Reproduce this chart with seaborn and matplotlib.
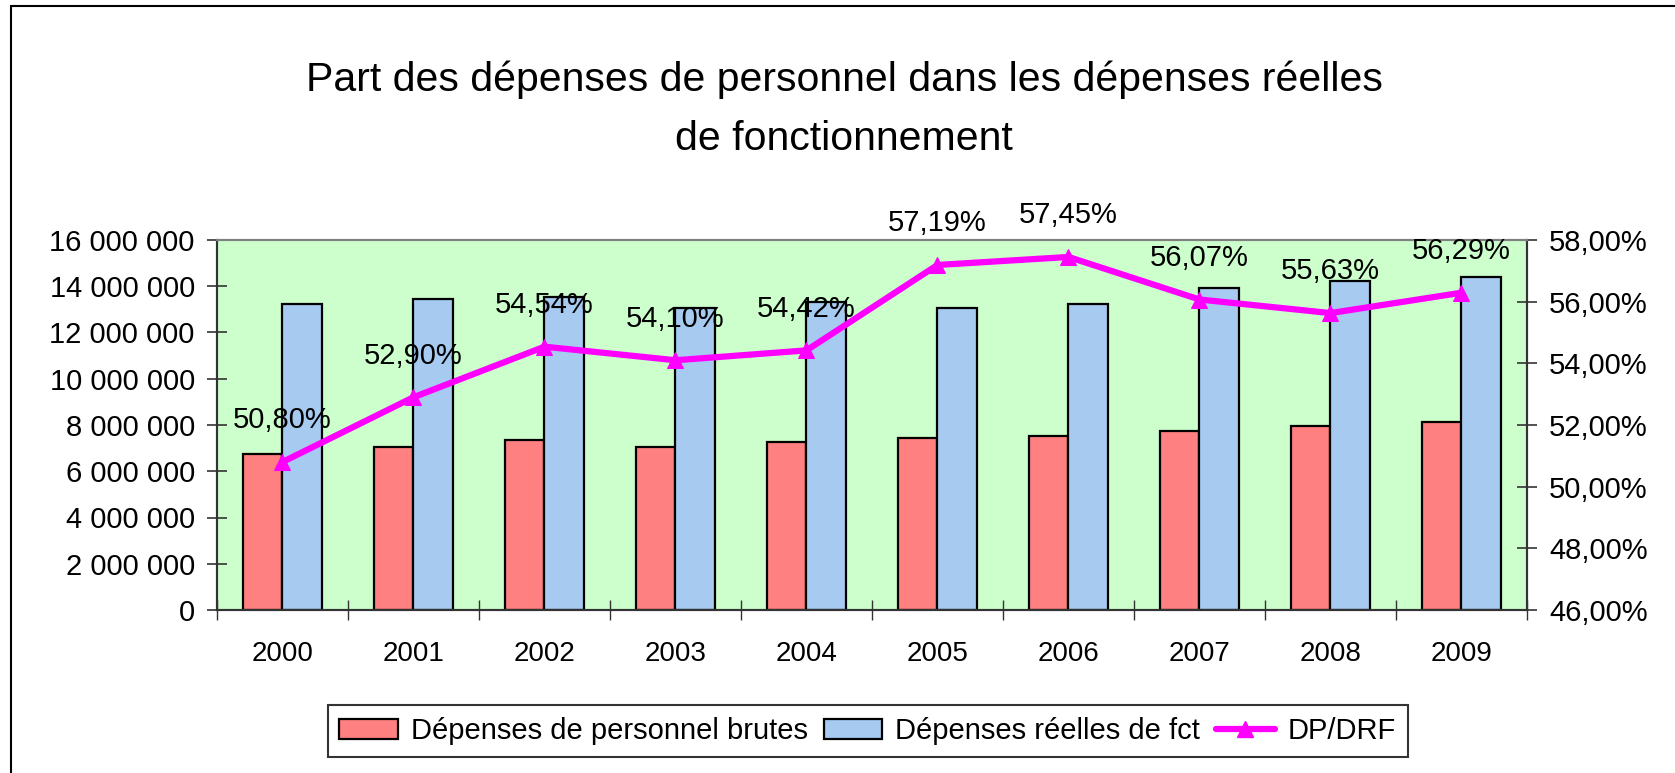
import numpy as np
import pandas as pd
import matplotlib
matplotlib.use("Agg")
import matplotlib.pyplot as plt
import seaborn as sns
from matplotlib.lines import Line2D
from matplotlib.patches import Patch
from matplotlib.ticker import FuncFormatter, MultipleLocator

years = ["2000", "2001", "2002", "2003", "2004", "2005", "2006", "2007", "2008", "2009"]
dep_personnel = [6730000, 7030000, 7350000, 7060000, 7250000, 7420000, 7540000, 7740000, 7940000, 8130000]
dep_reelles = [13230000, 13430000, 13520000, 13050000, 13300000, 13050000, 13230000, 13920000, 14210000, 14390000]
ratio = [50.80, 52.90, 54.54, 54.10, 54.42, 57.19, 57.45, 56.07, 55.63, 56.29]
ratio_labels = ["50,80%", "52,90%", "54,54%", "54,10%", "54,42%", "57,19%", "57,45%", "56,07%", "55,63%", "56,29%"]
series_names = ["Dépenses de personnel brutes", "Dépenses réelles de fct", "DP/DRF"]
title_text = "Part des dépenses de personnel dans les dépenses réelles\nde fonctionnement"

red = "#FF8080"
blue = "#A6CAF0"
magenta = "#FF00FF"
bg = "#CCFFCC"

sns.set_theme(style="white")
plt.rcParams["font.family"] = ["Liberation Sans", "DejaVu Sans"]
plt.rcParams["text.color"] = "black"

df = pd.DataFrame({
    "year": years * 2,
    "value": dep_personnel + dep_reelles,
    "serie": [series_names[0]] * len(years) + [series_names[1]] * len(years),
})

fig = plt.figure(figsize=(16.75, 7.73), dpi=100)
ax = fig.add_axes([217 / 1675, 1 - 610 / 773, (1527 - 217) / 1675, (610 - 240) / 773])
ax.set_facecolor(bg)

sns.barplot(data=df, x="year", y="value", hue="serie", palette=[red, blue],
            width=0.6, edgecolor="black", linewidth=1.6, ax=ax, legend=False,
            saturation=1)
ax.set_ylim(0, 16000000)
ax.set_xlim(-0.5, len(years) - 0.5)
ax.yaxis.set_major_locator(MultipleLocator(2000000))
ax.yaxis.set_major_formatter(FuncFormatter(lambda v, p: f"{int(v):,}".replace(",", " ")))
ax.set_xlabel("")
ax.set_ylabel("")
ax.tick_params(axis="y", direction="inout", length=14, width=1.2, labelsize=21, pad=9,
               left=True, color="#333333", labelcolor="black")
ax.tick_params(axis="x", which="major", length=0, labelsize=20, pad=22, labelcolor="black")
ax.set_xticks(np.arange(-0.5, len(years), 1.0), minor=True)
ax.tick_params(axis="x", which="minor", direction="inout", length=14, width=1.0, bottom=True, color="#333333")

ax2 = ax.twinx()
sns.lineplot(x=np.arange(len(years)), y=ratio, ax=ax2, color=magenta, linewidth=4.5,
             marker="^", markersize=12, markeredgecolor=magenta, markerfacecolor=magenta)
ax2.set_ylim(46, 58)
ax2.yaxis.set_major_locator(MultipleLocator(2))
ax2.yaxis.set_major_formatter(FuncFormatter(lambda v, p: f"{v:.2f}%".replace(".", ",")))
ax2.tick_params(axis="y", direction="inout", length=14, width=1.2, labelsize=21, pad=9,
                right=True, color="#333333", labelcolor="black")
ax2.set_xlim(-0.5, len(years) - 0.5)

for i, (v, lab) in enumerate(zip(ratio, ratio_labels)):
    ax2.annotate(lab, xy=(i, v), xytext=(0, 30), textcoords="offset points",
                 ha="center", va="center", fontsize=21, color="black", annotation_clip=False)

for a in (ax, ax2):
    for s in ("left", "bottom", "right"):
        a.spines[s].set_color("#333333")
        a.spines[s].set_linewidth(1.5)
    a.spines["top"].set_color("#808080")
    a.spines["top"].set_linewidth(1.5)

fig.text(0.504, 1 - 80 / 773, title_text.split("\n")[0], ha="center", va="center",
         fontsize=29.5, color="black")
fig.text(0.504, 1 - 139 / 773, title_text.split("\n")[1], ha="center", va="center",
         fontsize=29.5, color="black")

handles = [
    Patch(facecolor=red, edgecolor="black", linewidth=1.6),
    Patch(facecolor=blue, edgecolor="black", linewidth=1.6),
    Line2D([0], [0], color=magenta, linewidth=4.5, marker="^", markersize=12),
]
leg = fig.legend(handles, series_names, loc="center", bbox_to_anchor=(0.518, 1 - 731 / 773),
                 ncol=3, fontsize=21, frameon=True, fancybox=False, edgecolor="black",
                 handlelength=2.0, handleheight=0.7, handletextpad=0.45, columnspacing=0.55,
                 borderpad=0.4)
leg.get_frame().set_linewidth(1.5)

fig.add_artist(Line2D([11 / 1675, 1.0], [1 - 6 / 773, 1 - 6 / 773], color="black", linewidth=1.5, transform=fig.transFigure))
fig.add_artist(Line2D([11 / 1675, 11 / 1675], [0.0, 1 - 6 / 773], color="black", linewidth=1.5, transform=fig.transFigure))

fig.savefig("out.png", dpi=100)
